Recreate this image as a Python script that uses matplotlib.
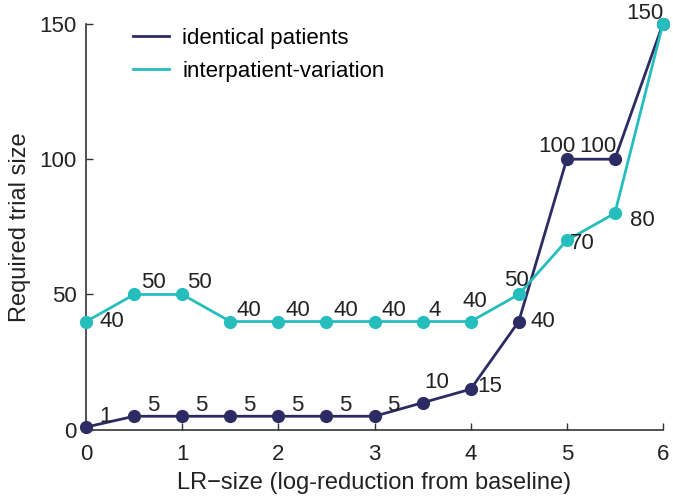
import numpy as np
import matplotlib.pyplot as plt

plt.rcParams['font.family'] = ['Liberation Sans', 'DejaVu Sans']

# LR-size values and the required trial sizes for the two scenarios
lr_size = [0, 0.5, 1, 1.5, 2, 2.5, 3, 3.5, 4, 4.5, 5, 5.5, 6]
identical = [1, 5, 5, 5, 5, 5, 5, 10, 15, 40, 100, 100, 150]
interpatient = [40, 50, 50, 40, 40, 40, 40, 40, 40, 50, 70, 80, 150]

identical_labels = ['1', '5', '5', '5', '5', '5', '5', '10', '15', '40', '100', '100', '150']
interpatient_labels = ['40', '50', '50', '40', '40', '40', '40', '4', '40', '50', '70', '80', '']

# label offsets in pixels (dx, dy)
identical_off = [(19, 11), (19, 11), (19, 11), (19, 11), (19, 11), (19, 11), (19, 11),
                 (14, 20), (19, 3), (24, 0), (-10, 13), (-17, 13), (-18, 10)]
interpatient_off = [(26, 0), (19, 12), (17, 12), (19, 11), (19, 11), (19, 11), (19, 11),
                    (12, 11), (4, 20), (-2, 14), (15, -3), (28, -7), (0, 0)]

navy = '#2d2b63'
teal = '#26bdbd'

fig = plt.figure(figsize=(6.73, 4.98), dpi=100)
ax = fig.add_axes([0.128, 0.137, 0.857, 0.815])

ax.plot(lr_size, identical, '-o', color=navy, lw=2, ms=8.5, label='identical patients',
        zorder=3, clip_on=False)
ax.plot(lr_size, interpatient, '-o', color=teal, lw=2, ms=8.5, label='interpatient-variation',
        zorder=3, clip_on=False)

for x, y, t, (dx, dy) in zip(lr_size, identical, identical_labels, identical_off):
    ax.annotate(t, (x, y), xytext=(dx, dy), textcoords='offset pixels',
                ha='center', va='center', fontsize=16, color='#222222', zorder=4)
for x, y, t, (dx, dy) in zip(lr_size, interpatient, interpatient_labels, interpatient_off):
    if t:
        ax.annotate(t, (x, y), xytext=(dx, dy), textcoords='offset pixels',
                    ha='center', va='center', fontsize=16, color='#222222', zorder=4)

ax.set_xlim(0, 6)
ax.set_ylim(0, 150)
ax.set_xticks(range(0, 7))
ax.set_yticks([0, 50, 100, 150])
ax.spines['top'].set_visible(False)
ax.spines['right'].set_visible(False)
for s in ['left', 'bottom']:
    ax.spines[s].set_color('#333333')
    ax.spines[s].set_linewidth(1.2)
ax.tick_params(direction='in', length=5, width=1, colors='#333333', labelsize=16,
               labelcolor='#222222')
ax.tick_params(axis='x', pad=10)
ax.tick_params(axis='y', pad=7)

ax.set_xlabel('LR\u2212size (log-reduction from baseline)', fontsize=17, color='#222222', labelpad=5)
ax.set_ylabel('Required trial size', fontsize=17, color='#222222', labelpad=6)

leg = ax.legend(loc='upper left', bbox_to_anchor=(0.047, 1.04), frameon=False, fontsize=16,
                handlelength=1.6, handletextpad=0.6, labelspacing=0.55)
for h in leg.legend_handles:
    h.set_marker('')

fig.savefig('out.png', dpi=100)
